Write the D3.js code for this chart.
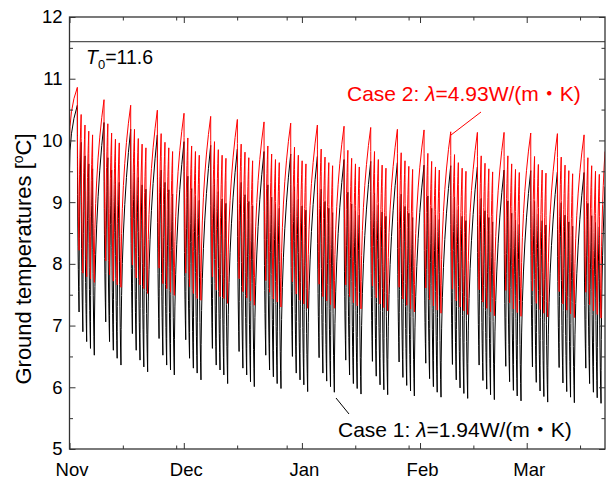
<!DOCTYPE html>
<html><head><meta charset="utf-8">
<script src="https://cdn.jsdelivr.net/npm/d3@7"></script>
<style>
html,body{margin:0;padding:0;background:#fff;}
svg{display:block;font-family:"Liberation Sans",Arial,"Noto Sans CJK JP",sans-serif;}
</style></head>
<body><svg id="chart" width="608" height="479"></svg>
<script>
// ---------- data ----------
const monthLabels = ["Nov", "Dec", "Jan", "Feb", "Mar"];
const monthStarts = ["2013-11-01", "2013-12-01", "2014-01-01", "2014-02-01", "2014-03-01"];
const minorTickDays = [14, 28, 44, 57, 75, 89, 106, 134];
const yTicks = [5, 6, 7, 8, 9, 10, 11, 12];
const yMinorTicks = [5.5, 6.5, 7.5, 8.5, 9.5, 10.5, 11.5];
const T0 = 11.6;

// schedule (days after Nov 1)
const firstPeakDay = 2.06;   // first weekend peak
const weekLength = 7;
const operationDays = 5;
const operationLength = 0.45; // fraction of a day the drop lasts
const endDay = 140.55;

// Case 1 (black, lambda = 1.94)
const case1Start = 9.52;
const case1Peak = [10.57, 10.29, 10.18, 10.09, 9.98, 9.92, 9.86, 9.82, 9.78, 9.74,
                   9.69, 9.66, 9.64, 9.60, 9.59, 9.57, 9.52, 9.51, 9.49, 9.48];
const case1DayMax = [
  [9.97, 9.75, 9.62, 9.54], [9.72, 9.52, 9.40, 9.32], [9.60, 9.40, 9.28, 9.21],
  [9.52, 9.32, 9.20, 9.13], [9.42, 9.22, 9.10, 9.03], [9.37, 9.17, 9.05, 8.98],
  [9.32, 9.12, 9.01, 8.94], [9.28, 9.08, 8.97, 8.90], [9.25, 9.05, 8.94, 8.87],
  [9.21, 9.01, 8.90, 8.83], [9.16, 8.97, 8.86, 8.79], [9.15, 8.95, 8.84, 8.77],
  [9.13, 8.93, 8.82, 8.75], [9.10, 8.90, 8.79, 8.72], [9.08, 8.88, 8.77, 8.70],
  [9.06, 8.86, 8.75, 8.68], [9.02, 8.82, 8.71, 8.64], [9.01, 8.81, 8.70, 8.63],
  [8.99, 8.79, 8.68, 8.61], [8.98, 8.78, 8.67, 8.60]];
const case1DayMin = [
  [7.22, 6.90, 6.74, 6.63, 6.52], [7.06, 6.74, 6.60, 6.47, 6.36], [6.87, 6.60, 6.44, 6.33, 6.25],
  [6.79, 6.52, 6.36, 6.28, 6.20], [6.77, 6.47, 6.31, 6.23, 6.12], [6.63, 6.36, 6.28, 6.20, 6.06],
  [6.58, 6.31, 6.20, 6.09, 6.01], [6.52, 6.28, 6.17, 6.06, 5.98], [6.50, 6.23, 6.12, 6.04, 5.93],
  [6.48, 6.23, 6.10, 6.01, 5.92], [6.44, 6.20, 6.06, 5.98, 5.89], [6.42, 6.18, 6.04, 5.96, 5.88],
  [6.41, 6.16, 6.03, 5.94, 5.86], [6.39, 6.14, 6.01, 5.92, 5.84], [6.37, 6.12, 5.99, 5.90, 5.82],
  [6.36, 6.11, 5.97, 5.88, 5.80], [6.34, 6.09, 5.95, 5.86, 5.78], [6.33, 6.08, 5.94, 5.85, 5.76],
  [6.32, 6.07, 5.93, 5.84, 5.75], [6.31, 6.06, 5.92, 5.83, 5.74]];
const case1End = 9.25;

// Case 2 (red, lambda = 4.93)
const case2Start = 9.96;
const case2Peak = [10.86, 10.66, 10.57, 10.49, 10.44, 10.39, 10.34, 10.30, 10.28, 10.25,
                   10.23, 10.21, 10.18, 10.17, 10.14, 10.13, 10.13, 10.12, 10.11, 10.09];
const case2DayMax = [
  [10.42, 10.25, 10.15, 10.09], [10.27, 10.12, 10.02, 9.96], [10.18, 10.03, 9.94, 9.88],
  [10.11, 9.97, 9.88, 9.82], [10.04, 9.91, 9.82, 9.76], [9.98, 9.85, 9.76, 9.71],
  [9.94, 9.81, 9.72, 9.67], [9.91, 9.78, 9.69, 9.64], [9.89, 9.76, 9.67, 9.62],
  [9.86, 9.73, 9.64, 9.59], [9.84, 9.71, 9.62, 9.57], [9.82, 9.69, 9.60, 9.55],
  [9.80, 9.67, 9.58, 9.53], [9.79, 9.66, 9.57, 9.52], [9.77, 9.64, 9.55, 9.50],
  [9.75, 9.63, 9.54, 9.49], [9.75, 9.62, 9.53, 9.48], [9.74, 9.61, 9.52, 9.47],
  [9.73, 9.60, 9.51, 9.46], [9.72, 9.59, 9.50, 9.45]];
const case2DayMin = [
  [8.22, 7.85, 7.79, 7.76, 7.70], [8.05, 7.82, 7.72, 7.66, 7.62], [7.98, 7.77, 7.66, 7.60, 7.52],
  [7.93, 7.68, 7.60, 7.54, 7.49], [7.85, 7.63, 7.52, 7.44, 7.41], [7.79, 7.58, 7.47, 7.44, 7.36],
  [7.76, 7.55, 7.45, 7.40, 7.33], [7.73, 7.54, 7.43, 7.38, 7.30], [7.71, 7.51, 7.41, 7.35, 7.28],
  [7.67, 7.47, 7.40, 7.34, 7.28], [7.66, 7.47, 7.37, 7.32, 7.27], [7.64, 7.45, 7.35, 7.29, 7.24],
  [7.62, 7.43, 7.33, 7.27, 7.22], [7.61, 7.42, 7.32, 7.25, 7.20], [7.59, 7.40, 7.30, 7.24, 7.18],
  [7.58, 7.38, 7.28, 7.22, 7.16], [7.57, 7.37, 7.27, 7.21, 7.15], [7.56, 7.36, 7.26, 7.20, 7.14],
  [7.55, 7.35, 7.25, 7.19, 7.13], [7.54, 7.34, 7.24, 7.18, 7.12]];
const case2End = 9.82;

// ---------- build series points ----------
function buildSeries(start, peaks, dayMax, dayMin, end) {
  const pts = [{d: 0, v: start}];
  peaks.forEach((p, w) => {
    const t0 = firstPeakDay + w * weekLength;
    pts.push({d: t0, v: p});
    for (let i = 0; i < operationDays; i++) {
      pts.push({d: t0 + i + operationLength, v: dayMin[w][i]});
      if (i < operationDays - 1) pts.push({d: t0 + i + 1, v: dayMax[w][i]});
    }
  });
  pts.push({d: endDay, v: end});
  return pts;
}
const case1 = buildSeries(case1Start, case1Peak, case1DayMax, case1DayMin, case1End);
const case2 = buildSeries(case2Start, case2Peak, case2DayMax, case2DayMin, case2End);

// ---------- layout ----------
const svg = d3.select("#chart");
const L = 69.5, R = 605, T = 17, B = 449;
const day0 = new Date(Date.UTC(2013, 10, 1));
const toDate = d => new Date(day0.getTime() + d * 864e5);
const x = d3.scaleUtc().domain([day0, toDate(endDay)]).range([L, R]);
const y = d3.scaleLinear().domain([5, 12]).range([B, T]);

// custom saw-tooth curve: each segment leaves its start point vertically
function SawCurve(context) { this._context = context; }
SawCurve.prototype = {
  areaStart() {}, areaEnd() {},
  lineStart() { this._point = 0; },
  lineEnd() {},
  point(px, py) {
    px = +px; py = +py;
    if (this._point === 0) { this._point = 1; this._context.moveTo(px, py); }
    else {
      this._context.quadraticCurveTo(this._x0, this._y0 + 0.62 * (py - this._y0), px, py);
    }
    this._x0 = px; this._y0 = py;
  }
};
const sawCurve = ctx => new SawCurve(ctx);

svg.append("clipPath").attr("id", "plotclip")
  .append("rect").attr("x", L).attr("y", T).attr("width", R - L).attr("height", B - T);

const line = d3.line().x(p => x(toDate(p.d))).y(p => y(p.v)).curve(sawCurve);

const g = svg.append("g").attr("clip-path", "url(#plotclip)");
g.append("path").datum(case1).attr("d", line)
  .attr("fill", "none").attr("stroke", "#000").attr("stroke-width", 1);
g.append("path").datum(case2).attr("d", line)
  .attr("fill", "none").attr("stroke", "#ff0000").attr("stroke-width", 1);

// T0 line
svg.append("line").attr("x1", L).attr("x2", R).attr("y1", y(T0)).attr("y2", y(T0))
  .attr("stroke", "#555").attr("stroke-width", 1.3);

// ---------- axes ----------
const axisColor = "#333";
const monthDates = monthStarts.map(s => new Date(s + "T00:00:00Z"));
const minorDates = minorTickDays.map(toDate);

function styleAxis(sel) {
  sel.selectAll(".domain").remove();
  sel.selectAll("line").attr("stroke", axisColor).attr("stroke-width", 1);
}
// bottom
const bottom = svg.append("g").attr("transform", `translate(0,${B})`)
  .call(d3.axisBottom(x).tickValues(monthDates).tickSizeInner(-6).tickSizeOuter(0)
    .tickFormat((d, i) => monthLabels[i]).tickPadding(14));
styleAxis(bottom);
bottom.selectAll("text").attr("font-size", 18.5).attr("fill", "#000").attr("dx", 2)
  .attr("font-family", "Liberation Sans, Arial, sans-serif");
svg.append("g").attr("transform", `translate(0,${B})`)
  .call(d3.axisBottom(x).tickValues(minorDates).tickSizeInner(-3.5).tickSizeOuter(0).tickFormat(""))
  .call(styleAxis);
// top
svg.append("g").attr("transform", `translate(0,${T})`)
  .call(d3.axisTop(x).tickValues(monthDates).tickSizeInner(-6).tickSizeOuter(0).tickFormat(""))
  .call(styleAxis);
svg.append("g").attr("transform", `translate(0,${T})`)
  .call(d3.axisTop(x).tickValues(minorDates).tickSizeInner(-3.5).tickSizeOuter(0).tickFormat(""))
  .call(styleAxis);
// left
const left = svg.append("g").attr("transform", `translate(${L},0)`)
  .call(d3.axisLeft(y).tickValues(yTicks).tickSizeInner(-6).tickSizeOuter(0)
    .tickPadding(7).tickFormat(d3.format("d")));
styleAxis(left);
left.selectAll("text").attr("font-size", 18.5).attr("fill", "#000")
  .attr("font-family", "Liberation Sans, Arial, sans-serif");
svg.append("g").attr("transform", `translate(${L},0)`)
  .call(d3.axisLeft(y).tickValues(yMinorTicks).tickSizeInner(-3.5).tickSizeOuter(0).tickFormat(""))
  .call(styleAxis);
// right
svg.append("g").attr("transform", `translate(${R},0)`)
  .call(d3.axisRight(y).tickValues(yTicks).tickSizeInner(-6).tickSizeOuter(0).tickFormat(""))
  .call(styleAxis);
svg.append("g").attr("transform", `translate(${R},0)`)
  .call(d3.axisRight(y).tickValues(yMinorTicks).tickSizeInner(-3.5).tickSizeOuter(0).tickFormat(""))
  .call(styleAxis);

// frame
svg.append("rect").attr("x", L).attr("y", T).attr("width", R - L).attr("height", B - T)
  .attr("fill", "none").attr("stroke", axisColor).attr("stroke-width", 1.3);

// y title
svg.append("text")
  .attr("transform", `translate(31,${(T + B) / 2 + 26}) rotate(-90)`)
  .attr("text-anchor", "middle").attr("font-size", 22).attr("fill", "#000")
  .call(t => {
    t.append("tspan").text("Ground temperatures [");
    t.append("tspan").attr("font-size", 14).attr("dy", -8).text("o");
    t.append("tspan").attr("dy", 8).text("C]");
  });

// T0 label
svg.append("text").attr("x", 86).attr("y", 64).attr("font-size", 19.5).attr("fill", "#000")
  .call(t => {
    t.append("tspan").attr("font-style", "italic").text("T");
    t.append("tspan").attr("font-size", 13).attr("dy", 5).text("0");
    t.append("tspan").attr("dy", -5).text("=11.6");
  });

// annotations
function caseLabel(xp, yp, color, caseNo, lam) {
  svg.append("text").attr("x", xp).attr("y", yp).attr("font-size", 21).attr("fill", color)
    .call(t => {
      t.append("tspan").text(`Case ${caseNo}: `);
      t.append("tspan").attr("font-style", "italic").text("λ");
      t.append("tspan").text(`=${lam}W/(m・K)`);
    });
}
caseLabel(347, 101, "#ff0000", 2, "4.93");
caseLabel(338, 437, "#000", 1, "1.94");
svg.append("line").attr("x1", 481).attr("y1", 112).attr("x2", 451).attr("y2", 135)
  .attr("stroke", "#ff0000").attr("stroke-width", 1);
svg.append("line").attr("x1", 349).attr("y1", 414).attr("x2", 336).attr("y2", 398)
  .attr("stroke", "#000").attr("stroke-width", 1);
</script></body></html>
